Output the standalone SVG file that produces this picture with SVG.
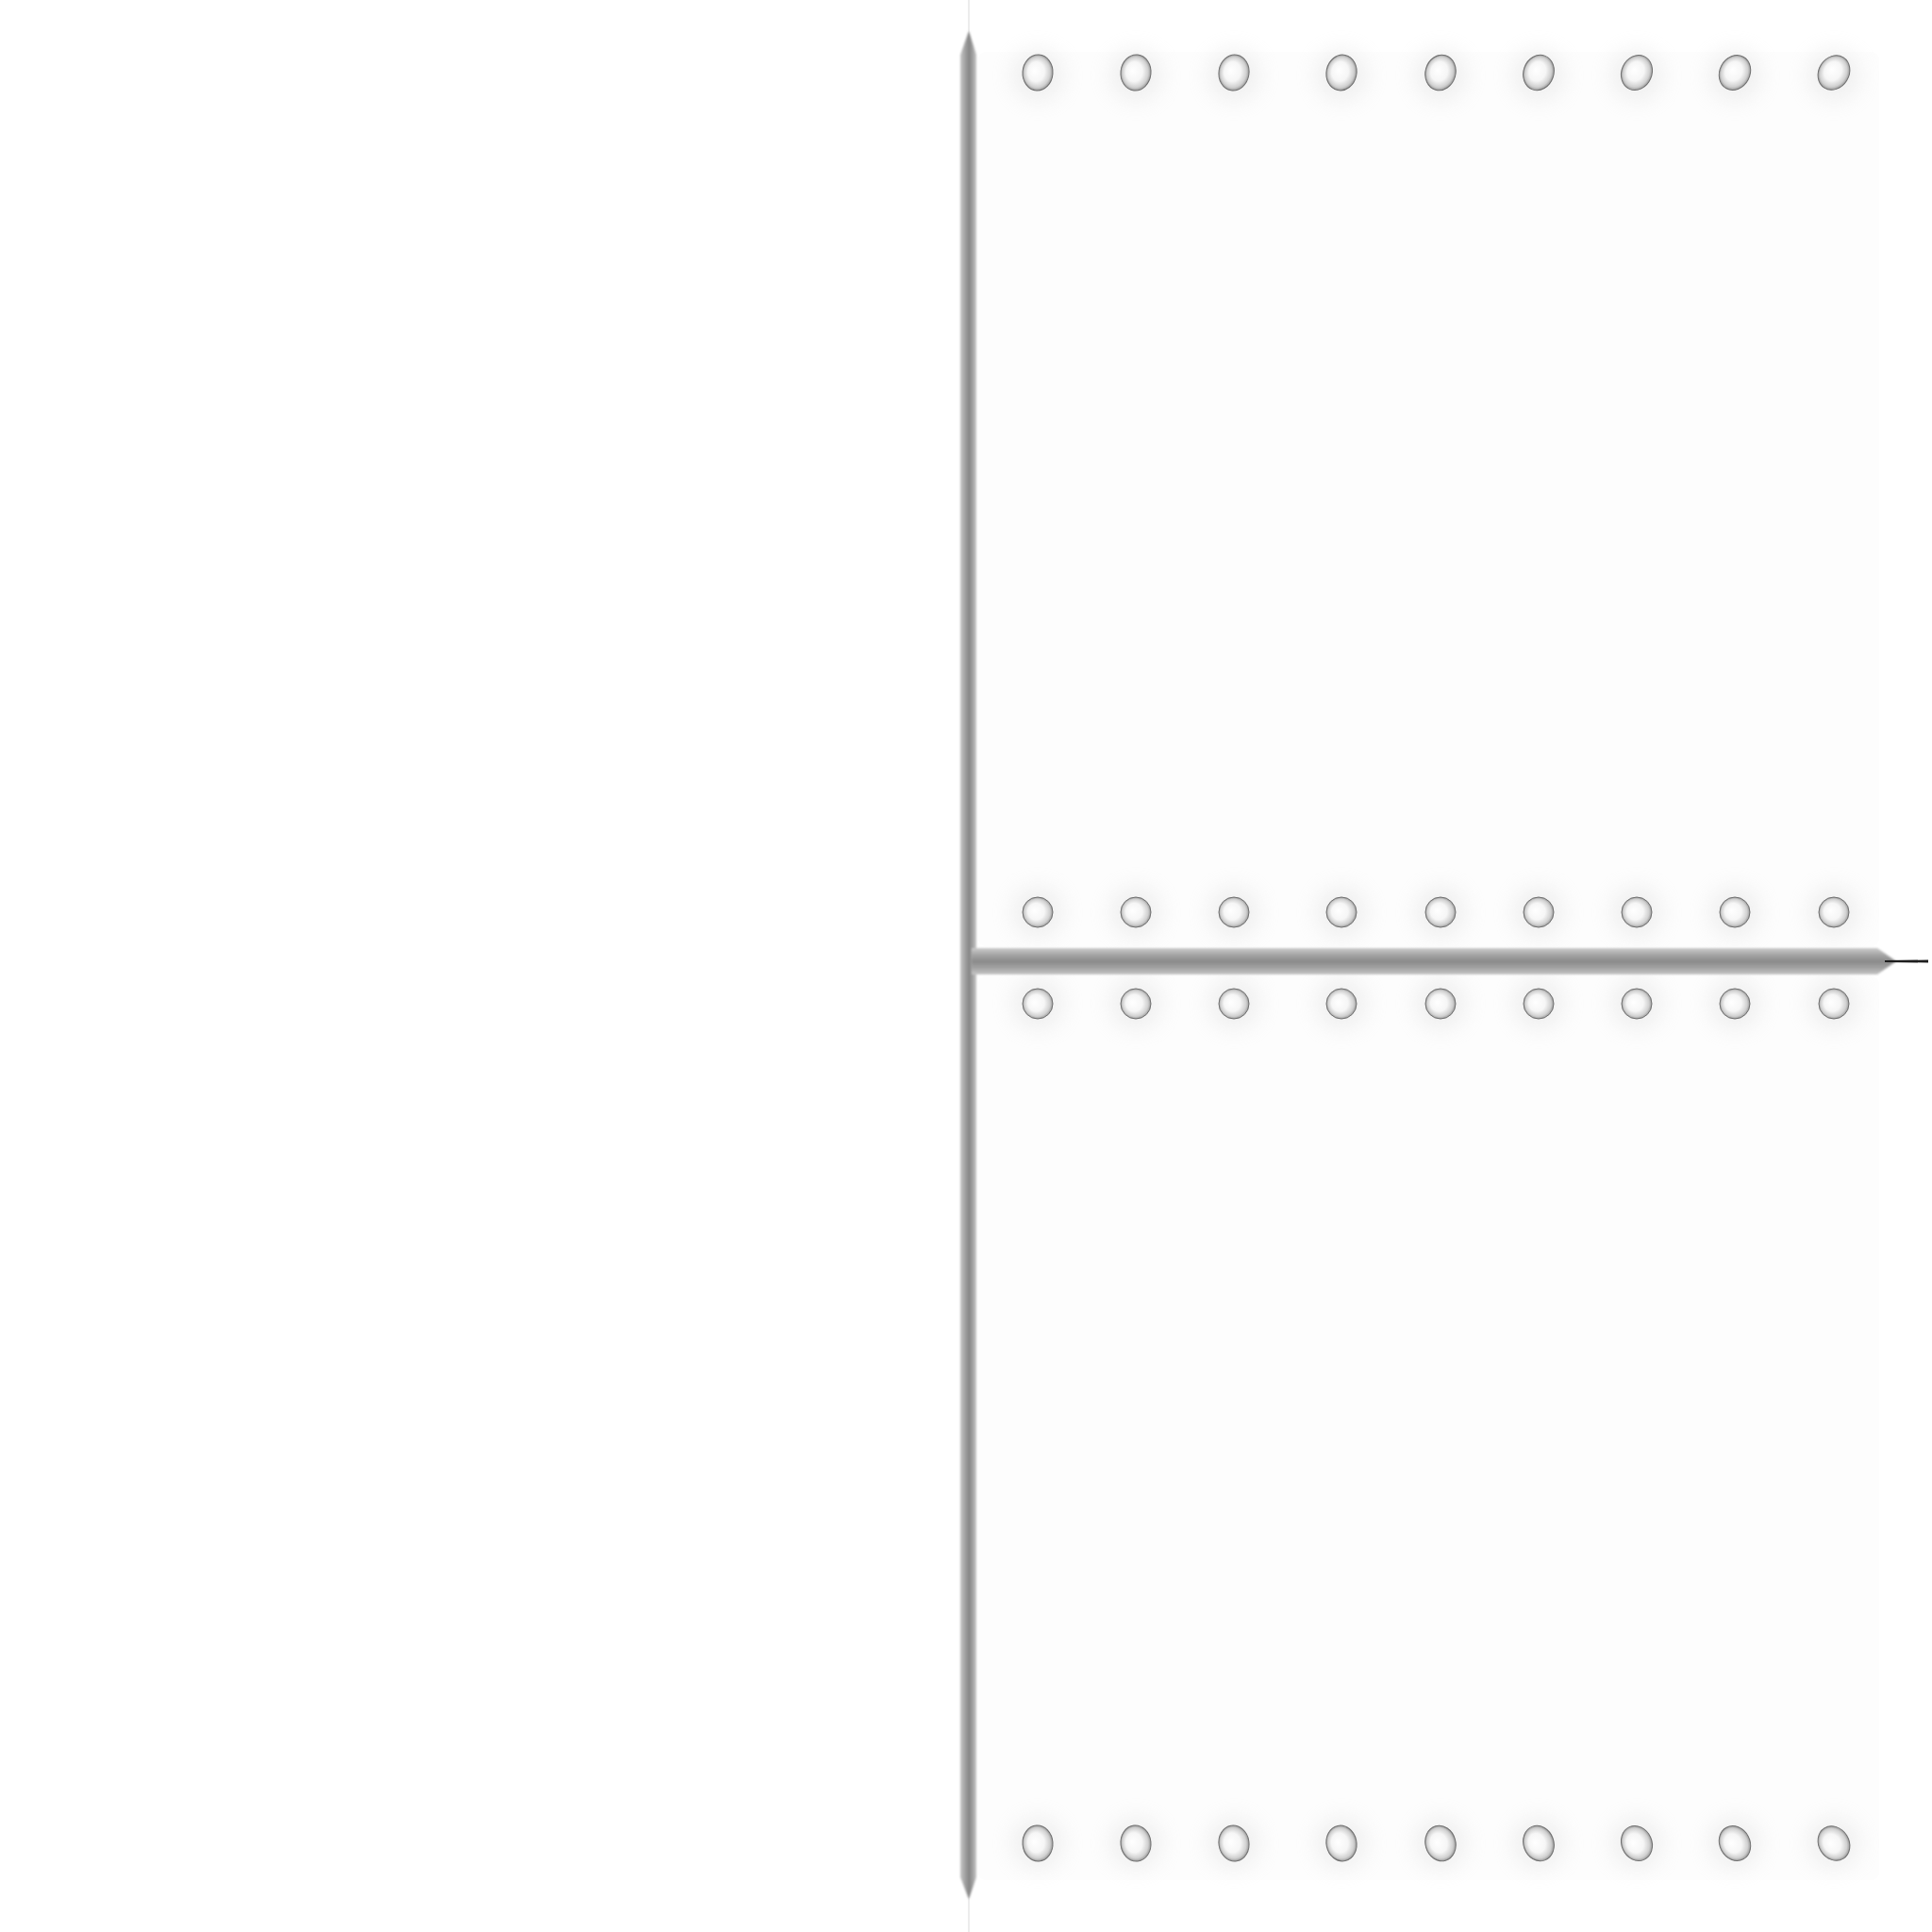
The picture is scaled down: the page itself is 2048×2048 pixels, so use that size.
<svg xmlns="http://www.w3.org/2000/svg" width="2048" height="2048" viewBox="0 0 2048 2048">
<defs>
<linearGradient id="hbar" x1="0" y1="0" x2="0" y2="1">
<stop offset="0" stop-color="#cbcbcb"/>
<stop offset="0.25" stop-color="#a6a6a6"/>
<stop offset="0.5" stop-color="#8a8a8a"/>
<stop offset="0.75" stop-color="#a2a2a2"/>
<stop offset="1" stop-color="#c6c6c6"/>
</linearGradient>
<linearGradient id="vbar" x1="0" y1="0" x2="1" y2="0">
<stop offset="0" stop-color="#c4c4c4"/>
<stop offset="0.35" stop-color="#9c9c9c"/>
<stop offset="0.55" stop-color="#858585"/>
<stop offset="0.8" stop-color="#a6a6a6"/>
<stop offset="1" stop-color="#c8c8c8"/>
</linearGradient>
<radialGradient id="rivet" cx="0.5" cy="0.5" r="0.5" fx="0.38" fy="0.45">
<stop offset="0" stop-color="#ffffff"/>
<stop offset="0.55" stop-color="#f6f6f6"/>
<stop offset="0.85" stop-color="#d0d0d0"/>
<stop offset="1" stop-color="#9a9a9a"/>
</radialGradient>
<filter id="halo" x="-1" y="-1" width="3" height="3">
<feGaussianBlur stdDeviation="12"/>
</filter>
<filter id="soft" x="-0.2" y="-0.2" width="1.4" height="1.4">
<feGaussianBlur stdDeviation="1.2"/>
</filter>
</defs>
<style>
.panel{fill:#fdfdfd}
.halo{fill:#d8d8d8;opacity:0.4;filter:url(#halo)}
.rv{fill:url(#rivet);stroke:#707070;stroke-width:1}
</style>
<rect width="2048" height="2048" fill="#ffffff"/>
<g id="panels">
<rect class="panel" x="1037" y="55" width="955" height="948" rx="8"/>
<rect class="panel" x="1037" y="1035" width="955" height="958" rx="8"/>
</g>
<g id="halos">
<g transform="translate(0,80)">
<circle class="halo" cx="1100" cy="0" r="26"/><circle class="halo" cx="1204" cy="0" r="26"/><circle class="halo" cx="1308" cy="0" r="26"/><circle class="halo" cx="1422" cy="0" r="26"/><circle class="halo" cx="1527" cy="0" r="26"/><circle class="halo" cx="1631" cy="0" r="26"/><circle class="halo" cx="1735" cy="0" r="26"/><circle class="halo" cx="1839" cy="0" r="26"/><circle class="halo" cx="1944" cy="0" r="26"/>
</g>
<g transform="translate(0,967)">
<circle class="halo" cx="1100" cy="0" r="26"/><circle class="halo" cx="1204" cy="0" r="26"/><circle class="halo" cx="1308" cy="0" r="26"/><circle class="halo" cx="1422" cy="0" r="26"/><circle class="halo" cx="1527" cy="0" r="26"/><circle class="halo" cx="1631" cy="0" r="26"/><circle class="halo" cx="1735" cy="0" r="26"/><circle class="halo" cx="1839" cy="0" r="26"/><circle class="halo" cx="1944" cy="0" r="26"/>
</g>
<g transform="translate(0,1064)">
<circle class="halo" cx="1100" cy="0" r="26"/><circle class="halo" cx="1204" cy="0" r="26"/><circle class="halo" cx="1308" cy="0" r="26"/><circle class="halo" cx="1422" cy="0" r="26"/><circle class="halo" cx="1527" cy="0" r="26"/><circle class="halo" cx="1631" cy="0" r="26"/><circle class="halo" cx="1735" cy="0" r="26"/><circle class="halo" cx="1839" cy="0" r="26"/><circle class="halo" cx="1944" cy="0" r="26"/>
</g>
<g transform="translate(0,1954)">
<circle class="halo" cx="1100" cy="0" r="26"/><circle class="halo" cx="1204" cy="0" r="26"/><circle class="halo" cx="1308" cy="0" r="26"/><circle class="halo" cx="1422" cy="0" r="26"/><circle class="halo" cx="1527" cy="0" r="26"/><circle class="halo" cx="1631" cy="0" r="26"/><circle class="halo" cx="1735" cy="0" r="26"/><circle class="halo" cx="1839" cy="0" r="26"/><circle class="halo" cx="1944" cy="0" r="26"/>
</g>
</g>
<g id="bars">
<line x1="1027" y1="0" x2="1027" y2="2048" stroke="#ececec" stroke-width="2"/>
<path d="M1027 33 L1018 58 L1018 1990 L1027 2013 L1035 1990 L1035 58 Z" fill="url(#vbar)" filter="url(#soft)"/>
<path d="M1030 1005 L1990 1005 L2010 1019 L1990 1033 L1030 1033 Z" fill="url(#hbar)" filter="url(#soft)"/>
<path d="M1998 1018 L2044 1017.5 L2044 1020.5 L1998 1020 Z" fill="#1e1e1e"/>
</g>
<g id="rivets-top">
<ellipse class="rv" cx="1100" cy="77" rx="16" ry="19" transform="rotate(4 1100 77)"/>
<ellipse class="rv" cx="1204" cy="77" rx="16" ry="19" transform="rotate(6 1204 77)"/>
<ellipse class="rv" cx="1308" cy="77" rx="16" ry="19" transform="rotate(9 1308 77)"/>
<ellipse class="rv" cx="1422" cy="77" rx="16" ry="19" transform="rotate(12 1422 77)"/>
<ellipse class="rv" cx="1527" cy="77" rx="16" ry="19" transform="rotate(16 1527 77)"/>
<ellipse class="rv" cx="1631" cy="77" rx="16" ry="19" transform="rotate(20 1631 77)"/>
<ellipse class="rv" cx="1735" cy="77" rx="16" ry="19" transform="rotate(24 1735 77)"/>
<ellipse class="rv" cx="1839" cy="77" rx="16" ry="19" transform="rotate(28 1839 77)"/>
<ellipse class="rv" cx="1944" cy="77" rx="16" ry="19" transform="rotate(32 1944 77)"/>
</g>
<g id="rivets-mid-upper">
<circle class="rv" cx="1100" cy="967" r="16"/><circle class="rv" cx="1204" cy="967" r="16"/><circle class="rv" cx="1308" cy="967" r="16"/><circle class="rv" cx="1422" cy="967" r="16"/><circle class="rv" cx="1527" cy="967" r="16"/><circle class="rv" cx="1631" cy="967" r="16"/><circle class="rv" cx="1735" cy="967" r="16"/><circle class="rv" cx="1839" cy="967" r="16"/><circle class="rv" cx="1944" cy="967" r="16"/>
</g>
<g id="rivets-mid-lower">
<circle class="rv" cx="1100" cy="1064" r="16"/><circle class="rv" cx="1204" cy="1064" r="16"/><circle class="rv" cx="1308" cy="1064" r="16"/><circle class="rv" cx="1422" cy="1064" r="16"/><circle class="rv" cx="1527" cy="1064" r="16"/><circle class="rv" cx="1631" cy="1064" r="16"/><circle class="rv" cx="1735" cy="1064" r="16"/><circle class="rv" cx="1839" cy="1064" r="16"/><circle class="rv" cx="1944" cy="1064" r="16"/>
</g>
<g id="rivets-bottom">
<ellipse class="rv" cx="1100" cy="1954" rx="16" ry="19" transform="rotate(-4 1100 1954)"/>
<ellipse class="rv" cx="1204" cy="1954" rx="16" ry="19" transform="rotate(-6 1204 1954)"/>
<ellipse class="rv" cx="1308" cy="1954" rx="16" ry="19" transform="rotate(-9 1308 1954)"/>
<ellipse class="rv" cx="1422" cy="1954" rx="16" ry="19" transform="rotate(-12 1422 1954)"/>
<ellipse class="rv" cx="1527" cy="1954" rx="16" ry="19" transform="rotate(-16 1527 1954)"/>
<ellipse class="rv" cx="1631" cy="1954" rx="16" ry="19" transform="rotate(-20 1631 1954)"/>
<ellipse class="rv" cx="1735" cy="1954" rx="16" ry="19" transform="rotate(-24 1735 1954)"/>
<ellipse class="rv" cx="1839" cy="1954" rx="16" ry="19" transform="rotate(-28 1839 1954)"/>
<ellipse class="rv" cx="1944" cy="1954" rx="16" ry="19" transform="rotate(-32 1944 1954)"/>
</g>
</svg>
